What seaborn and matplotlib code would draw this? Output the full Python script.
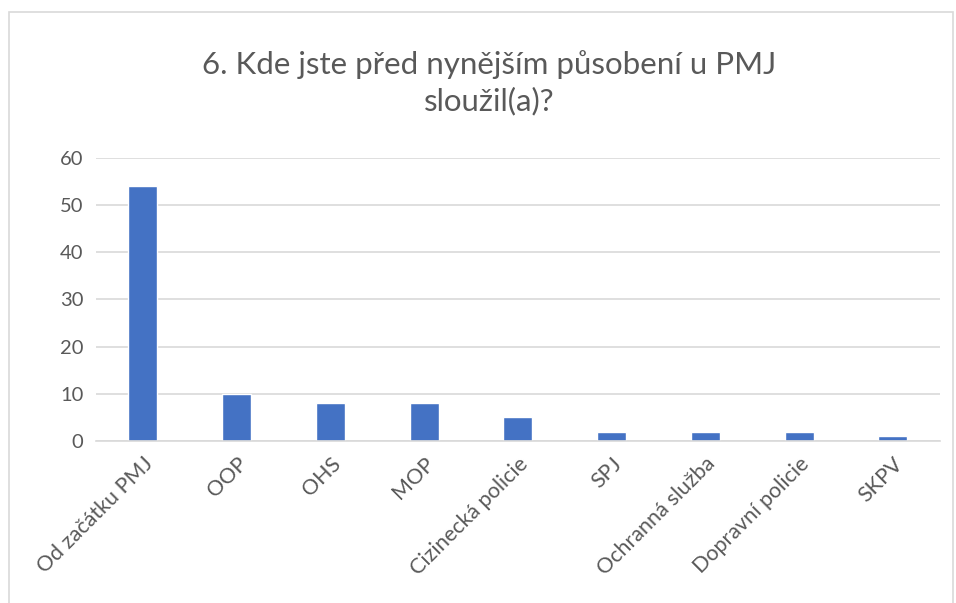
import matplotlib
matplotlib.use("Agg")
import matplotlib.pyplot as plt
import seaborn as sns
import pandas as pd
from matplotlib.patches import Rectangle

# Data
categories = ['Od začátku PMJ', 'OOP', 'OHS', 'MOP', 'Cizinecká policie',
              'SPJ', 'Ochranná služba', 'Dopravní policie', 'SKPV']
counts = [54, 10, 8, 8, 5, 2, 2, 2, 1]
y_ticks = [0, 10, 20, 30, 40, 50, 60]
title = '6. Kde jste před nynějším působení u PMJ\nsloužil(a)?'

df = pd.DataFrame({'Kategorie': categories, 'Počet': counts})

sns.set_style('white')
plt.rcParams['font.family'] = ['Lato', 'DejaVu Sans']
text_color = '#595959'

fig = plt.figure(figsize=(9.56, 6.03), dpi=100)
ax = fig.add_axes([0.1004, 0.2687, 0.8826, 0.4693])

sns.barplot(x='Kategorie', y='Počet', data=df, color='#4472C4',
            saturation=1, width=0.31, ax=ax)

ax.set_ylim(0, 60)
ax.set_yticks(y_ticks)
ax.yaxis.grid(True, color='#D9D9D9', linewidth=1.2)
ax.set_axisbelow(True)
for s in ['top', 'right', 'left']:
    ax.spines[s].set_visible(False)
ax.spines['bottom'].set_color('#D9D9D9')
ax.spines['bottom'].set_linewidth(1.2)
ax.tick_params(axis='y', length=0, labelsize=14.5, colors=text_color, pad=9)
ax.tick_params(axis='x', length=0, labelsize=15.5, colors=text_color, pad=9)
ax.set_xlabel('')
ax.set_ylabel('')
plt.setp(ax.get_xticklabels(), rotation=45, ha='right', va='top',
         rotation_mode='anchor')

fig.text(0.512, 0.863, title, ha='center', va='center', fontsize=22.5,
         color=text_color, linespacing=1.3)

# Light chart border as in the spreadsheet export
fig.patches.append(Rectangle((0.009, -0.01), 0.988, 0.99, transform=fig.transFigure,
                             fill=False, edgecolor='#D9D9D9', linewidth=1.2))

fig.savefig('out.png', dpi=100)
